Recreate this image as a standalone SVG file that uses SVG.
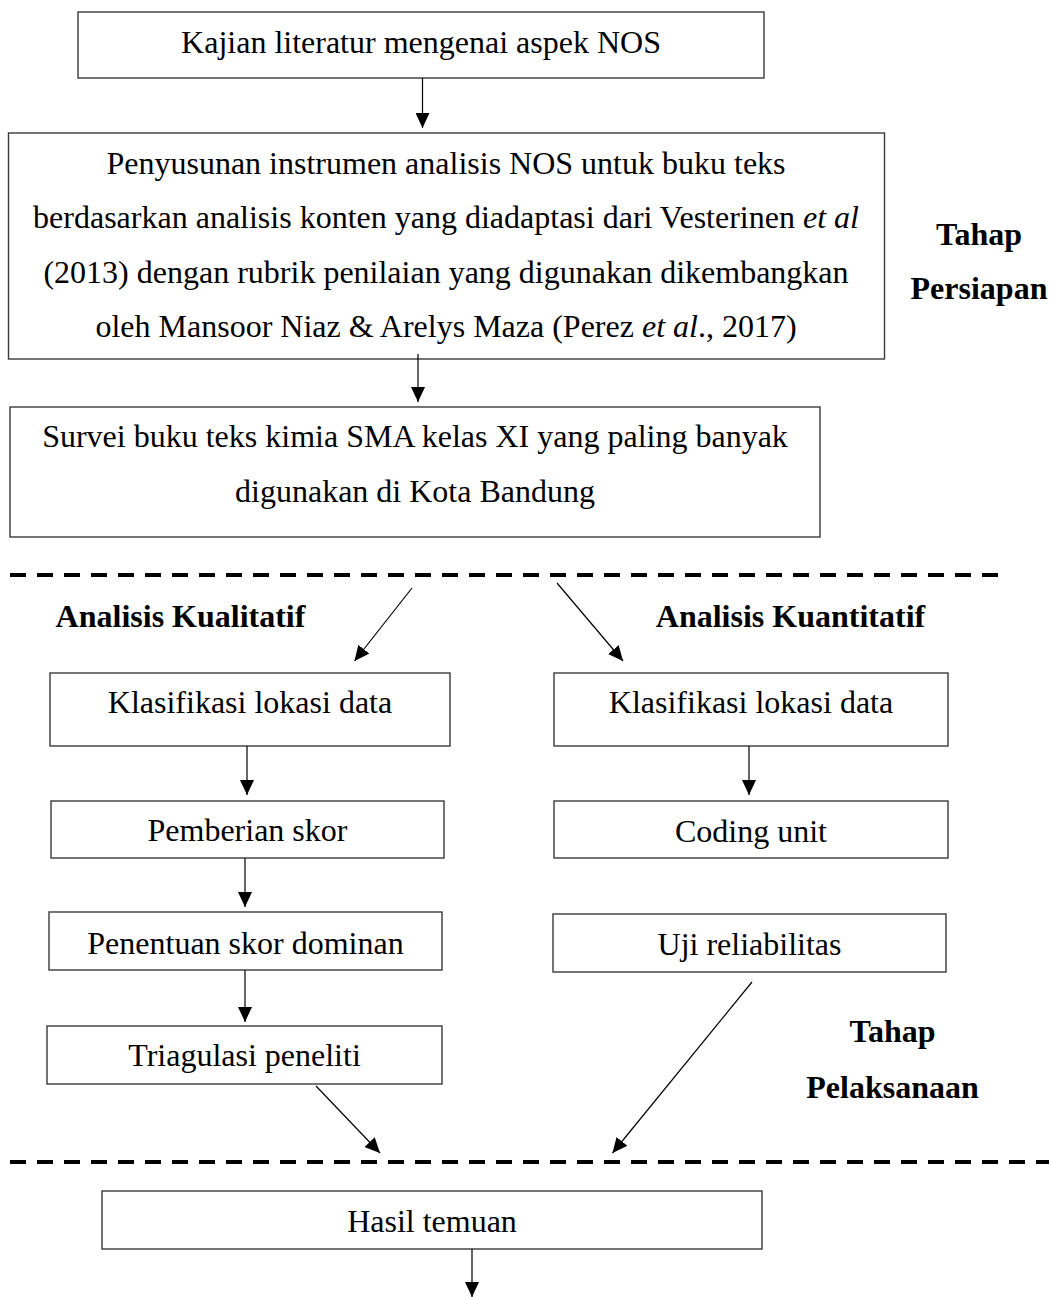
<svg xmlns="http://www.w3.org/2000/svg" width="1049" height="1297" viewBox="0 0 1049 1297">
  <defs>
    <marker id="ah" markerUnits="userSpaceOnUse" markerWidth="16" markerHeight="14" refX="15" refY="7" orient="auto">
      <path d="M0,0 L15,7 L0,14 z" fill="#000"/>
    </marker>
    <style>
      .box { fill: #fff; stroke: #3a3a3a; stroke-width: 1.4; }
      .t { font-family: "Liberation Serif", "Times New Roman", serif; font-size: 32px; fill: #000; text-anchor: middle; }
      .b { font-weight: bold; }
      .conn line { stroke: #000; stroke-width: 1.2; marker-end: url(#ah); }
      .dash { stroke: #000; stroke-width: 4; stroke-dasharray: 16 11; fill: none; }
    </style>
  </defs>
  <rect width="1049" height="1297" fill="#fff"/>

  <g id="n1">
    <rect class="box" x="78" y="12" width="686" height="66"/>
    <text class="t" x="421" y="52.5">Kajian literatur mengenai aspek NOS</text>
  </g>

  <g id="n2">
    <rect class="box" x="8.5" y="133" width="876" height="226"/>
    <text class="t" x="446" y="173.5">Penyusunan instrumen analisis NOS untuk buku teks</text>
    <text class="t" x="446" y="228">berdasarkan analisis konten yang diadaptasi dari Vesterinen <tspan font-style="italic">et al</tspan></text>
    <text class="t" x="446" y="282.5">(2013) dengan rubrik penilaian yang digunakan dikembangkan</text>
    <text class="t" x="446" y="337">oleh Mansoor Niaz &amp; Arelys Maza (Perez <tspan font-style="italic">et al</tspan>., 2017)</text>
  </g>

  <g id="n3">
    <rect class="box" x="10" y="407" width="810" height="130"/>
    <text class="t" x="415" y="447">Survei buku teks kimia SMA kelas XI yang paling banyak</text>
    <text class="t" x="415" y="502">digunakan di Kota Bandung</text>
  </g>

  <g id="lbl-persiapan">
    <text class="t b" x="979" y="244.5">Tahap</text>
    <text class="t b" x="979" y="298.5">Persiapan</text>
  </g>

  <g id="lbl-kualitatif">
    <text class="t b" x="180.5" y="626.5">Analisis Kualitatif</text>
  </g>
  <g id="lbl-kuantitatif">
    <text class="t b" x="790.5" y="626.5">Analisis Kuantitatif</text>
  </g>

  <g id="n4">
    <rect class="box" x="50" y="673" width="400" height="73"/>
    <text class="t" x="250" y="713">Klasifikasi lokasi data</text>
  </g>
  <g id="n5">
    <rect class="box" x="51" y="801" width="393" height="57"/>
    <text class="t" x="247.5" y="841">Pemberian skor</text>
  </g>
  <g id="n6">
    <rect class="box" x="49" y="912" width="393" height="58"/>
    <text class="t" x="245.5" y="954">Penentuan skor dominan</text>
  </g>
  <g id="n7">
    <rect class="box" x="47" y="1026" width="395" height="58"/>
    <text class="t" x="244.5" y="1066">Triagulasi peneliti</text>
  </g>

  <g id="n8">
    <rect class="box" x="554" y="673" width="394" height="73"/>
    <text class="t" x="751" y="713">Klasifikasi lokasi data</text>
  </g>
  <g id="n9">
    <rect class="box" x="554" y="801" width="394" height="57"/>
    <text class="t" x="751" y="841.5">Coding unit</text>
  </g>
  <g id="n10">
    <rect class="box" x="553" y="914" width="393" height="58"/>
    <text class="t" x="749.5" y="954.5">Uji reliabilitas</text>
  </g>

  <g id="lbl-pelaksanaan">
    <text class="t b" x="892.5" y="1042">Tahap</text>
    <text class="t b" x="892.5" y="1097.5">Pelaksanaan</text>
  </g>

  <g id="n11">
    <rect class="box" x="102" y="1191" width="660" height="58"/>
    <text class="t" x="432" y="1232">Hasil temuan</text>
  </g>

  <g id="separators">
    <line class="dash" x1="10" y1="575" x2="1004" y2="575"/>
    <line class="dash" x1="10" y1="1162" x2="1049" y2="1162"/>
  </g>

  <g id="connectors" class="conn">
    <line x1="422.5" y1="78" x2="422.5" y2="128"/>
    <line x1="418" y1="354" x2="418" y2="402"/>
    <line x1="412" y1="588" x2="354.5" y2="661"/>
    <line x1="557" y1="583" x2="623" y2="661"/>
    <line x1="247" y1="746" x2="247" y2="795"/>
    <line x1="245" y1="858" x2="245" y2="907"/>
    <line x1="245" y1="970" x2="245" y2="1022"/>
    <line x1="749" y1="746" x2="749" y2="795"/>
    <line x1="316" y1="1086" x2="380" y2="1153"/>
    <line x1="752" y1="982" x2="612.5" y2="1153"/>
    <line x1="472" y1="1249" x2="472" y2="1297"/>
  </g>
</svg>
